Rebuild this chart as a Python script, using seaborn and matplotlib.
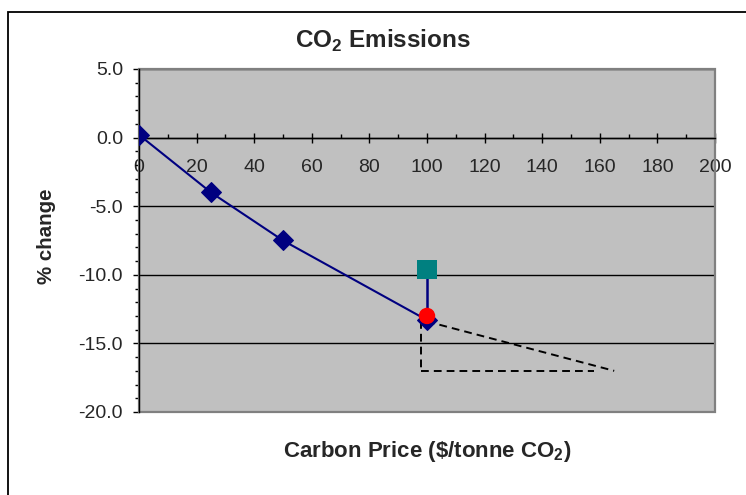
import matplotlib
matplotlib.use("Agg")
import matplotlib.pyplot as plt
import matplotlib.patches as mpatches
from matplotlib.ticker import MultipleLocator, FormatStrFormatter
import seaborn as sns
import pandas as pd

# Modelled emissions response to the carbon price
price = [0, 25, 50, 100]
change = [0.2, -4.0, -7.5, -13.3]

# Single-point comparison estimates at $100
square_x = [100]
square_y = [-9.6]
circle_x = [100]
circle_y = [-13.0]

# Dashed guide triangle below the curve end
tri_vert_x = [98, 98]
tri_vert_y = [-13.4, -17.0]
tri_horz_x = [98, 158]
tri_horz_y = [-17.0, -17.0]
tri_hyp_x = [100, 165]
tri_hyp_y = [-13.4, -17.0]

sns.set_theme(style="white")
plt.rcParams["font.family"] = ["Liberation Sans", "DejaVu Sans"]
plt.rcParams["mathtext.fontset"] = "custom"
plt.rcParams["mathtext.bf"] = "Liberation Sans:bold"
plt.rcParams["mathtext.rm"] = "Liberation Sans"

W, H = 746, 495
fig = plt.figure(figsize=(W / 100, H / 100), dpi=100)
fig.patch.set_facecolor("white")

left, right, top, bottom = 139, 715, 69, 412
ax = fig.add_axes([left / W, 1 - bottom / H, (right - left) / W, (bottom - top) / H])
ax.set_facecolor("#C0C0C0")

# chart-area border
fig.add_artist(mpatches.Rectangle((8 / W, -0.1), 1.2, 1 - 12 / H + 0.1,
                                  transform=fig.transFigure, fill=False,
                                  edgecolor="black", linewidth=1.3))

df = pd.DataFrame({"price": price, "change": change})

ax.set_xlim(0, 200)
ax.set_ylim(-20, 5)

ax.yaxis.set_major_locator(MultipleLocator(5))
ax.yaxis.set_minor_locator(MultipleLocator(1))
ax.yaxis.set_major_formatter(FormatStrFormatter("%.1f"))
ax.xaxis.set_major_locator(MultipleLocator(20))
ax.xaxis.set_minor_locator(MultipleLocator(10))

ax.yaxis.grid(True, which="major", color="black", linewidth=1.0)
ax.set_axisbelow(True)

for s in ["top", "right"]:
    ax.spines[s].set_visible(False)
ax.spines["left"].set_color("black")
ax.spines["left"].set_linewidth(1.0)
ax.spines["bottom"].set_position(("data", 0))
ax.spines["bottom"].set_color("black")
ax.spines["bottom"].set_linewidth(1.0)
ax.spines["bottom"].set_zorder(2.5)

# plot-area frame
ax.add_patch(mpatches.Rectangle((0, 0), 1, 1, transform=ax.transAxes, fill=False,
                                edgecolor="#808080", linewidth=1.6, zorder=2, clip_on=False))

ax.tick_params(axis="y", which="major", direction="out", length=4, width=1,
               color="black", labelsize=14, pad=7.5, left=True)
ax.tick_params(axis="y", which="minor", direction="out", length=3, width=1,
               color="black", left=True)
ax.tick_params(axis="x", which="major", direction="inout", length=7.2, width=1,
               color="black", labelsize=14, pad=12, bottom=True)
ax.tick_params(axis="x", which="minor", direction="in", length=3, width=1,
               color="black", bottom=True)

# guide triangle
for xs, ys in [(tri_vert_x, tri_vert_y), (tri_horz_x, tri_horz_y), (tri_hyp_x, tri_hyp_y)]:
    ax.plot(xs, ys, color="black", linestyle=(0, (4, 2.6)), linewidth=1.4, zorder=3)

sns.lineplot(data=df, x="price", y="change", ax=ax, color="#000080", linewidth=1.5,
             marker="D", markersize=10, markeredgecolor="#000080", zorder=4)

ax.plot(square_x + circle_x, square_y + circle_y, color="#000080", linewidth=1.8, zorder=4)

sns.scatterplot(x=square_x, y=square_y, ax=ax, marker="s", s=190, color="#008080",
                edgecolor="none", zorder=5)
sns.scatterplot(x=circle_x, y=circle_y, ax=ax, marker="o", s=140, color="#FF0000",
                edgecolor="none", zorder=6)

ax.set_xlabel("")
ax.set_ylabel("")

fig.text(383 / W, 1 - 41 / H, r"CO$_\mathbf{2}$ Emissions", ha="center", va="center",
         fontsize=17.5, fontweight="bold")
fig.text(427 / W, 1 - 452 / H, r"Carbon Price (\$/tonne CO$_\mathbf{2}$)", ha="center",
         va="center", fontsize=16, fontweight="bold")
fig.text(46 / W, 1 - 236 / H, "% change", ha="center", va="center", rotation=90,
         fontsize=14.8, fontweight="bold")

fig.savefig("out.png", dpi=100)
